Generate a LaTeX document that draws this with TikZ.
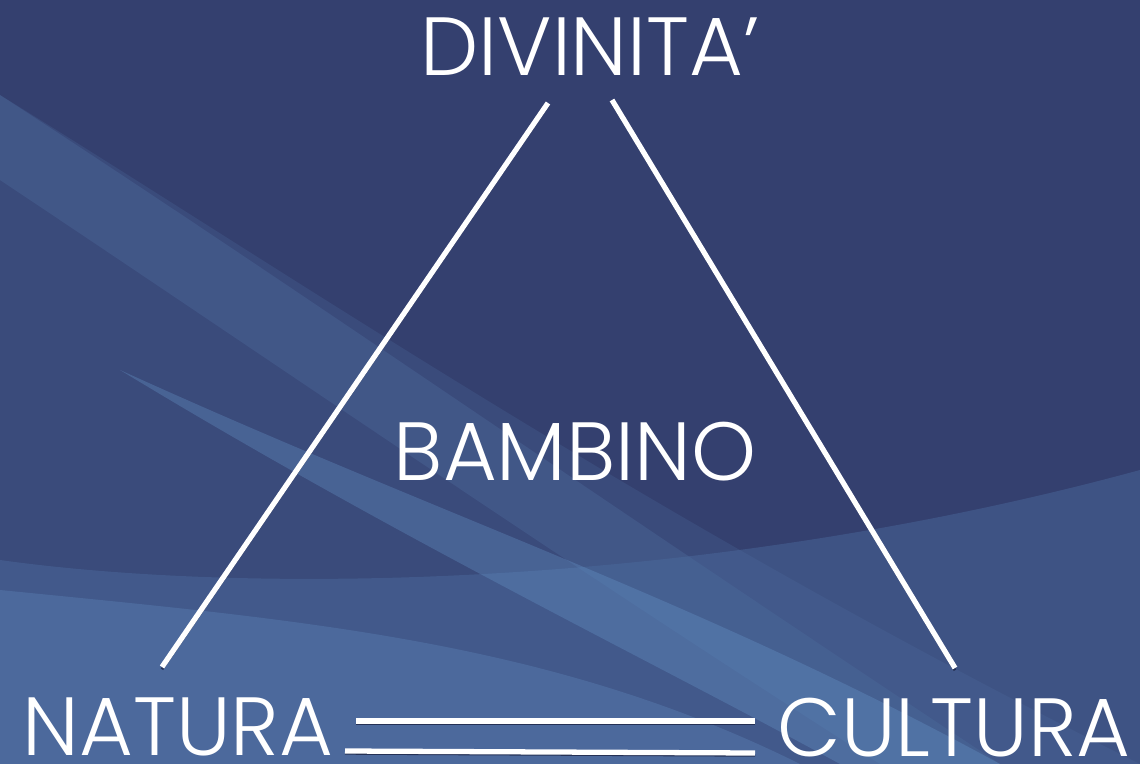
\documentclass[tikz,border=0pt]{standalone}
\usepackage{fontspec}
\setmainfont{Poppins Light}
\usetikzlibrary{positioning}
\definecolor{bgblue}{HTML}{34406F}
\definecolor{waveblue}{HTML}{4C6C9F}
\definecolor{lightwave}{HTML}{6A9CD0}
\definecolor{shadowblue}{HTML}{1C2444}
\tikzset{
  word/.style={
    text=white,
    anchor=base,
    inner sep=0pt,
    font=\fontsize{47}{50}\selectfont
  },
  bar/.style={white, line width=3pt},
  barshadow/.style={shadowblue, line width=1.6pt, opacity=0.8}
}

\begin{document}
\begin{tikzpicture}[x=0.02cm,y=-0.02cm]
\fill[bgblue] (0,0) rectangle (1140,764);
\useasboundingbox (0,0) rectangle (1140,764);

% background waves
\begin{scope}
\clip (0,0) rectangle (1140,764);
\fill[waveblue, opacity=0.25] (0,95) .. controls (300,280) and (650,520) .. (1140,764) -- (0,764) -- cycle;
\fill[lightwave, opacity=0.15] (0,95) .. controls (300,290) and (600,500) .. (1000,764) -- (880,764) .. controls (560,560) and (300,380) .. (0,180) -- cycle;
\fill[waveblue, opacity=0.45] (0,560) .. controls (250,595) and (700,590) .. (1140,470) -- (1140,764) -- (0,764) -- cycle;
\fill[lightwave, opacity=0.30] (120,370) .. controls (450,520) and (700,600) .. (1000,764) -- (840,764) .. controls (650,660) and (400,540) .. (120,370) -- cycle;
\fill[lightwave, opacity=0.25] (0,590) .. controls (300,620) and (550,640) .. (800,764) -- (0,764) -- cycle;
\end{scope}

% words
\node[word] (divinita) at (590,75) {DIVINITA’};
\node[word] (bambino) at (575,480) {BAMBINO};
\node[word] (natura) at (178,755) {NATURA};
\node[word] (cultura) at (954,756) {CULTURA};

% bar ends
\coordinate (divL) at (548,103);
\coordinate (natT) at (162,667);
\coordinate (divR) at (612,100);
\coordinate (culT) at (955,668);
\coordinate (natA) at (356,721);
\coordinate (culA) at (755,721);
\coordinate (natB) at (345,751);
\coordinate (culB) at (755,753);

\begin{scope}[transform canvas={yshift=-1.3pt}]
\draw[barshadow] (divL) -- (natT);
\draw[barshadow] (divR) -- (culT);
\draw[barshadow] (natA) -- (culA);
\draw[barshadow] (natB) -- (culB);
\end{scope}
\draw[bar] (divL) -- (natT);
\draw[bar] (divR) -- (culT);
\draw[bar] (natA) -- (culA);
\draw[bar] (natB) -- (culB);
\end{tikzpicture}
\end{document}
